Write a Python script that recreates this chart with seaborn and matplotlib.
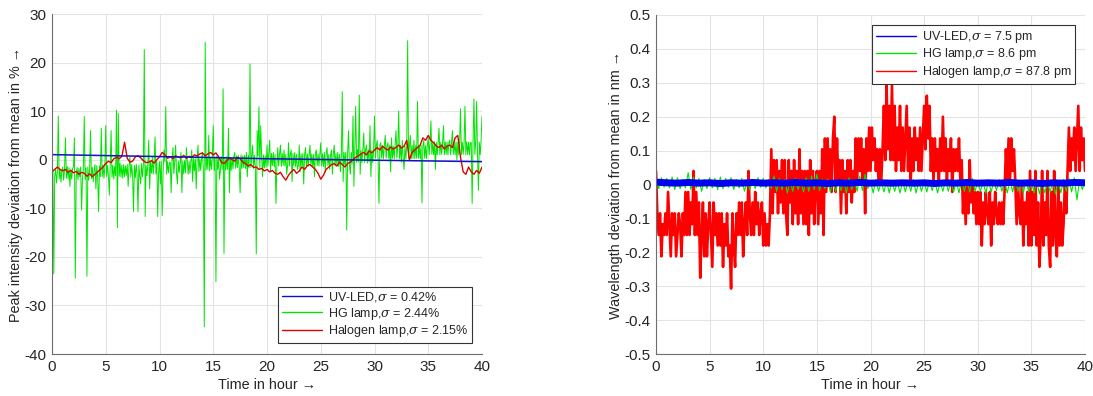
import numpy as np
import matplotlib
matplotlib.use("Agg")
import matplotlib.pyplot as plt
import seaborn as sns

# ---------------- data: left panel (peak intensity deviation, %) ----------------
uv_int = [1.05, 0.85, 0.65, 0.45, 0.20, 0.05, -0.10, -0.25, -0.40]

hg_int = [
    -4.5, -2.0, -23.5, -3.5, -1.8, -4.8, -2.5, 9.0, -4.0, -2.0, -4.6, -2.2,
    -1.5, -4.2, -2.0, 4.5, -3.8, -1.4, -4.0, -1.6, -5.5, -2.0, -4.0, -1.8,
    -1.5, 4.5, -24.4, -3.9, -1.6, -4.1, -1.8, -3.5, -1.5, -10.4, -4.0, -2.0,
    8.9, -4.0, -1.7, -24.0, -1.5, -4.2, -2.0, 6.0, -3.9, -1.6, -4.5, -2.2,
    -1.0, -6.0, -1.2, -3.6, -10.7, -1.3, -3.5, 6.5, -3.5, -1.1, -3.8, -1.5,
    7.0, -3.5, -1.2, -3.4, -7.3, -1.0, 6.0, -3.6, -1.2, -4.0, -1.4, -3.3,
    10.2, -14.0, 9.5, -3.4, -0.8, -3.6, -1.1, -3.8, -1.0, -3.5, -1.3, -3.2,
    -1.0, -5.5, -1.2, 0.5, -3.6, -1.0, -3.4, -10.7, -1.2, -3.7, -0.9, -3.0,
    -10.7, -1.1, -3.4, -5.0, -0.8, -3.5, -1.0, 22.7, -11.7, -1.2, -3.3, -0.9,
    4.0, -6.0, -0.5, -2.8, 0.5, -3.0, -0.4, 4.7, -2.9, -0.3, -11.7, -2.6,
    -0.4, -5.0, -0.3, -11.5, -2.8, 2.0, -0.5, 10.9, -3.0, -0.4, -2.7, -0.6,
    -0.5, -6.8, -0.3, 2.5, -2.9, -0.4, 3.0, -2.8, -5.0, -0.3, -2.6, -0.5,
    1.5, -6.8, -0.3, -2.9, -0.2, -2.7, 2.5, -0.4, -3.0, -0.3, -2.8, -0.5,
    2.0, -4.5, 0.3, -2.3, 0.2, -6.0, 0.3, 3.0, -2.4, 0.2, -2.2, 0.4,
    1.5, -2.2, -34.4, 24.2, -2.1, 0.5, -2.0, 5.0, -2.3, 0.4, -2.0, 0.6,
    7.0, -2.2, 0.5, -25.1, 0.8, -2.0, 0.4, -4.0, -2.1, 0.6, -2.0, 14.6,
    -19.3, 0.5, -2.1, 0.6, -2.0, 6.5, -6.8, 0.4, -2.2, 0.5, -1.9, 0.7,
    1.5, -1.8, 0.8, -1.6, 0.9, -1.7, -6.8, 1.0, -1.8, 0.8, -1.6, 0.9,
    -1.8, 1.5, -3.5, 0.9, -1.7, 19.7, -1.6, 0.8, 3.0, -1.8, 0.9, -1.5,
    -19.4, 6.0, 0.8, 10.9, -1.8, 7.0, 0.9, -3.5, 1.0, -1.7, 0.8, -1.6,
    3.0, -1.3, 1.2, 4.0, -2.5, 1.3, -1.2, 1.5, -1.4, 1.1, -9.0, -1.3,
    2.5, -1.3, 1.2, 3.0, -1.4, 1.3, -1.2, 2.0, -1.3, 1.1, -3.0, -1.2,
    3.5, -1.3, 1.2, 2.0, -4.5, 1.3, -1.2, 1.5, -1.4, 1.1, -2.0, -1.2,
    3.0, -2.5, 1.2, -1.3, 1.3, -5.0, 1.1, 2.5, -1.3, 1.2, -1.4, 1.0,
    3.0, -1.3, 1.2, -1.4, 1.1, -3.5, 1.3, 2.0, -1.2, 1.2, -1.3, 1.0,
    3.5, -1.3, 1.2, -1.4, 1.5, -2.5, 1.3, 2.5, -1.2, 1.1, -2.0, 1.0,
    2.0, -3.0, 1.2, 3.0, -1.3, 1.3, -1.2, 1.5, -1.4, 1.1, -2.5, 1.0,
    14.0, -4.5, 1.5, -1.0, 1.6, -14.5, 1.4, 6.0, -1.1, -3.0, 1.5, -0.9,
    9.0, -5.5, 2.0, 11.0, -0.6, 2.1, -0.5, 13.3, -3.0, 1.9, -0.6, 2.0,
    5.5, -0.6, 2.0, 3.0, -0.7, 2.1, -0.5, 7.0, -3.5, 2.0, -0.6, 1.9,
    9.0, 0.3, 2.9, 4.0, 0.2, -9.0, 3.0, 3.5, 0.3, 2.9, 0.2, 3.0,
    5.0, 0.3, 2.9, 3.5, 0.2, 3.0, -2.5, 4.5, 0.3, 2.8, 0.2, 3.0,
    6.0, 0.3, 2.9, 10.0, 0.2, 3.0, -0.5, 4.0, 0.3, -2.0, 2.8, 0.2,
    3.0, 24.5, 0.3, 2.9, 5.0, 0.2, 3.0, 0.3, 4.0, 0.2, 2.9, 0.3,
    12.0, 0.3, 2.9, 0.2, 3.0, -8.9, 2.8, 4.0, 0.3, 2.9, 0.2, 3.0,
    4.5, 1.0, 3.6, 8.0, 1.1, 3.5, 1.0, 3.7, -2.0, 3.6, 1.0, 3.5,
    6.5, 1.0, 3.6, 1.1, 3.5, 7.0, 1.0, 3.7, 1.1, 3.6, 1.0, 3.5,
    4.0, 1.0, 3.6, 6.0, 1.1, 3.5, 1.0, 3.7, 0.0, 3.6, 1.0, 3.5,
    10.5, 1.0, 3.6, 1.1, 3.5, 11.0, 1.0, 3.7, 1.1, 3.6, 1.0, 3.5,
    3.5, -9.0, 3.6, 12.5, 1.1, 3.5, 12.0, 1.0, -6.3, 3.6, 1.0, 4.0,
    9.0,
]

halogen_int = [
    -2.5, -2.0, -1.5, -2.0,
    -2.3, -2.0, -2.6, -2.2,
    -2.7, -2.4, -3.0, -2.6,
    -2.8, -3.4, -2.9, -3.5,
    -3.0, -2.5, -2.0, -1.5,
    -0.8, -0.3, -0.6, 0.2,
    0.5, 0.2, 0.7, 3.6,
    0.3, -0.5, -0.3, 0.6,
    0.8, 0.4, -0.2, -0.6,
    -0.5, -0.2, -0.7, 0.0,
    0.6, 1.5, 1.0, 0.3,
    0.6, 0.2, 0.8, 0.5,
    0.4, 0.9, 0.3, 0.7,
    0.5, 1.0, 0.8, 1.2,
    1.4, 0.8, 1.2, 1.5,
    1.0, 1.4, 0.6, -0.5,
    -0.8, -0.2, 0.3, 0.0,
    -0.3, 0.5, 0.2, -0.5,
    -0.8, -1.3, -1.0, -1.6,
    -1.5, -2.0, -1.8, -2.3,
    -2.0, -2.5, -2.2, -2.8,
    -3.0, -2.6, -3.5, -4.2,
    -3.2, -2.5, -2.0, -2.8,
    -2.3, -1.5, -2.0, -1.2,
    -1.0, -1.5, -2.0, -2.8,
    -4.0, -3.2, -2.0, -1.5,
    -1.0, -0.8, -1.3, -0.5,
    -1.0, -1.5, -0.8, -0.5,
    0.0, 0.5, 0.8, 1.2,
    1.5, 1.0, 1.8, 1.4,
    2.0, 2.5, 2.0, 2.8,
    2.3, 2.0, 2.6, 2.2,
    2.5, 3.0, 2.4, 2.8,
    4.0, 0.0, 1.5, 2.0,
    2.5, 3.0, 4.5, 4.0,
    5.0, 4.0, 3.5, 2.8,
    2.5, 3.0, 2.2, 2.8,
    3.0, 2.5, 4.5, 5.0,
    0.5, -2.5, -3.0, -1.5,
    -2.5, -3.0, -2.2, -2.8,
    -1.5,
]

# ---------------- data: right panel (wavelength deviation, nm) ----------------
uv_wl = [0.007, 0.005, 0.004, 0.006, 0.004, 0.005, 0.003, 0.005, 0.004, 0.006,
         0.004, 0.005, 0.004, 0.006, 0.004, 0.005, 0.003, 0.005, 0.004, 0.006,
         0.004, 0.005, 0.004, 0.005, 0.004, 0.005, 0.003, 0.005, 0.004, 0.006,
         0.004, 0.005, 0.004, 0.006, 0.004, 0.005, 0.003, 0.005, 0.004, 0.006,
         0.005]

hg_wl = [
    0.015, -0.012, 0.020, -0.008, 0.018, -0.010, 0.022, -0.015,
    0.020, -0.012, 0.015, -0.010, 0.035, -0.015, 0.022, -0.010,
    0.018, -0.020, 0.015, -0.012, 0.020, -0.010, 0.018, -0.015,
    0.022, -0.012, 0.018, -0.008, 0.020, -0.015, 0.015, -0.010,
    0.018, -0.020, 0.012, -0.015, 0.015, -0.012, 0.020, -0.008,
    0.018, -0.010, 0.015, -0.012, 0.025, -0.020, 0.018, -0.015,
    0.015, -0.025, 0.012, -0.020, 0.018, -0.015, 0.010, -0.022,
    0.020, -0.020, 0.025, -0.015, 0.030, -0.018, 0.015, -0.012,
    0.015, -0.022, 0.010, -0.020, 0.012, -0.018, 0.015, -0.025,
    0.020, -0.015, 0.012, -0.020, 0.025, -0.018, 0.030, -0.012,
    0.010, -0.025, 0.015, -0.020, 0.008, -0.022, 0.010, -0.025,
    0.012, -0.020, 0.008, -0.025, 0.010, -0.022, 0.012, -0.020,
    0.015, -0.025, 0.010, -0.020, 0.008, -0.022, 0.012, -0.018,
    0.010, -0.025, 0.008, -0.020, 0.012, -0.020, 0.010, -0.022,
    0.010, -0.025, 0.015, -0.020, 0.012, -0.022, 0.018, -0.020,
    0.010, -0.020, 0.008, -0.025, 0.012, -0.022, 0.010, -0.018,
    0.015, -0.020, 0.010, -0.025, 0.012, -0.022, 0.015, -0.020,
    0.010, -0.025, 0.012, -0.022, 0.008, -0.025, 0.010, -0.028,
    0.012, -0.025, 0.008, -0.022, 0.010, -0.028, 0.012, -0.025,
    0.015, -0.020, 0.018, -0.022, 0.020, -0.045, 0.015, -0.015,
    0.012,
]

halogen_wl = [
    0.040, -0.085, -0.149, -0.085, -0.212, -0.117, -0.149, -0.085,
    -0.149, -0.022, -0.117, -0.212, -0.085, -0.149, -0.085, -0.212,
    -0.149, -0.085, -0.117, -0.212, -0.085, -0.149, -0.022, -0.149,
    -0.022, -0.149, -0.053, -0.117, 0.040, -0.149, -0.022, -0.149,
    -0.053, -0.275, -0.149, -0.053, -0.212, -0.085, -0.212, -0.117,
    -0.053, -0.149, -0.243, -0.053, -0.149, -0.085, -0.180, -0.085,
    -0.180, -0.085, -0.243, -0.117, -0.180, -0.085, -0.212, -0.180,
    -0.307, -0.085, -0.180, -0.243, -0.085, -0.149, -0.053, -0.149,
    -0.053, -0.212, -0.117, -0.053, -0.149, 0.040, -0.085, -0.149,
    -0.053, -0.149, -0.022, -0.117, -0.053, -0.149, -0.085, -0.053,
    -0.180, -0.085, -0.180, -0.117, -0.180, -0.085, 0.104, -0.085,
    0.072, -0.022, 0.072, -0.085, 0.040, -0.053, 0.072, -0.085,
    0.072, -0.085, -0.149, 0.072, -0.053, 0.040, -0.117, 0.072,
    -0.085, 0.040, -0.117, 0.104, -0.085, 0.040, -0.117, 0.040,
    -0.117, 0.040, -0.149, 0.072, -0.085, 0.040, -0.117, 0.008,
    0.040, -0.117, 0.040, -0.085, 0.104, -0.149, 0.136, -0.022,
    0.136, 0.008, 0.104, -0.022, 0.136, 0.200, -0.022, 0.136,
    0.008, 0.072, -0.085, 0.072, -0.022, 0.040, -0.085, 0.072,
    -0.022, 0.072, -0.053, 0.040, -0.022, 0.136, 0.008, 0.136,
    0.040, 0.136, 0.008, 0.104, -0.085, 0.136, 0.040, 0.168,
    0.040, 0.168, 0.072, 0.136, 0.040, 0.104, 0.008, 0.104,
    0.008, 0.104, 0.232, 0.072, 0.293, 0.104, 0.232, 0.072,
    0.293, 0.072, 0.232, 0.040, 0.168, 0.072, 0.232, 0.040,
    0.168, 0.040, 0.136, 0.232, 0.040, 0.168, 0.008, 0.136,
    0.040, 0.168, 0.072, 0.136, 0.040, 0.168, 0.040, 0.136,
    0.232, 0.104, 0.262, 0.136, 0.232, 0.040, 0.136, 0.008,
    0.136, 0.040, 0.104, 0.008, 0.136, 0.040, 0.200, 0.040,
    0.136, 0.008, 0.104, 0.040, 0.136, -0.022, 0.104, 0.040,
    0.104, 0.040, 0.136, 0.008, 0.072, -0.085, 0.008, -0.117,
    0.008, -0.085, 0.072, -0.053, 0.008, -0.085, -0.022, -0.117,
    -0.022, -0.117, -0.022, -0.180, -0.053, -0.117, -0.022, -0.085,
    -0.117, -0.022, -0.180, -0.053, -0.117, -0.022, -0.085, -0.117,
    -0.053, -0.117, -0.053, -0.117, -0.022, 0.104, 0.008, 0.136,
    0.008, 0.136, 0.040, 0.104, 0.008, -0.117, 0.008, -0.085,
    -0.117, 0.008, -0.180, -0.053, -0.117, -0.022, -0.180, 0.040,
    -0.180, -0.022, -0.149, 0.040, -0.180, -0.053, -0.243, -0.149,
    0.040, -0.180, -0.053, -0.149, 0.040, -0.180, -0.243, -0.022,
    -0.180, 0.040, -0.149, -0.212, 0.008, -0.180, -0.053, -0.180,
    -0.117, 0.008, -0.085, 0.040, 0.168, 0.040, 0.136, 0.072,
    0.168, 0.040, 0.136, 0.232, 0.040, 0.168, 0.072, 0.136,
    0.040,
]

# ticks / labels
x_ticks = [0, 5, 10, 15, 20, 25, 30, 35, 40]
y_ticks_left = [-40, -30, -20, -10, 0, 10, 20, 30]
y_labels_left = ["-40", "-30", "-20", "-10", "0", "10", "20", "30"]
y_ticks_right = [-0.5, -0.4, -0.3, -0.2, -0.1, 0, 0.1, 0.2, 0.3, 0.4, 0.5]
y_labels_right = ["-0.5", "-0.4", "-0.3", "-0.2", "-0.1", "0", "0.1", "0.2", "0.3", "0.4", "0.5"]

legend_left = ["UV-LED,$\\sigma$ = 0.42%", "HG lamp,$\\sigma$ = 2.44%", "Halogen lamp,$\\sigma$ = 2.15%"]
legend_right = ["UV-LED,$\\sigma$ = 7.5 pm", "HG lamp,$\\sigma$ = 8.6 pm", "Halogen lamp,$\\sigma$ = 87.8 pm"]

# ---------------- styling ----------------
sns.set_theme(style="white")
plt.rcParams["font.family"] = ["Liberation Sans", "DejaVu Sans"]
plt.rcParams["axes.unicode_minus"] = False
plt.rcParams["mathtext.fontset"] = "dejavuserif"

TXT = "#262626"
GRID = "#e3e3e3"
SPINE = "#6e6e6e"
BLUE = "#0000f0"
GREEN = "#00e400"
RED = "#ff0000"

fig = plt.figure(figsize=(10.93, 3.96), dpi=100)
axL = fig.add_axes([52 / 1093, 1 - 354 / 396, 430 / 1093, 340 / 396])
axR = fig.add_axes([656 / 1093, 1 - 354 / 396, 429 / 1093, 339 / 396])


def tgrid(vals):
    return np.linspace(0, 40, len(vals))


# left panel: green first, then red, then blue
sns.lineplot(x=tgrid(hg_int), y=hg_int, ax=axL, color=GREEN, linewidth=0.7,
             estimator=None, sort=False)
sns.lineplot(x=tgrid(halogen_int), y=halogen_int, ax=axL, color="#e00000", linewidth=1.0,
             estimator=None, sort=False)
sns.lineplot(x=tgrid(uv_int), y=uv_int, ax=axL, color="#1010c8", linewidth=1.1,
             estimator=None, sort=False)

# right panel: red first, then green, then blue
sns.lineplot(x=tgrid(halogen_wl), y=halogen_wl, ax=axR, color=RED, linewidth=1.9,
             estimator=None, sort=False)
sns.lineplot(x=tgrid(hg_wl), y=hg_wl, ax=axR, color=GREEN, linewidth=0.8,
             estimator=None, sort=False)
sns.lineplot(x=tgrid(uv_wl), y=uv_wl, ax=axR, color=BLUE, linewidth=5.0,
             estimator=None, sort=False)

for ax, yt, yl, ylim, ylab in [
    (axL, y_ticks_left, y_labels_left, (-40, 30), "Peak intensity deviation from mean in % \u2192"),
    (axR, y_ticks_right, y_labels_right, (-0.5, 0.5), "Wavelength deviation from mean in nm \u2192"),
]:
    ax.set_xlim(0, 40)
    ax.set_ylim(*ylim)
    ax.set_xticks(x_ticks)
    ax.set_xticklabels([str(v) for v in x_ticks])
    ax.set_yticks(yt)
    ax.set_yticklabels(yl)
    ax.grid(True, color=GRID, linewidth=0.8)
    ax.set_axisbelow(True)
    for s in ["top", "right"]:
        ax.spines[s].set_visible(False)
    for s in ["left", "bottom"]:
        ax.spines[s].set_color(SPINE)
        ax.spines[s].set_linewidth(0.8)
    ax.tick_params(axis="both", direction="in", length=3, width=0.6, color=SPINE,
                   labelsize=11, labelcolor=TXT, pad=4)
    ax.set_xlabel("Time in hour \u2192", fontsize=10.4, color=TXT, labelpad=3)
    ax.set_ylabel(ylab, fontsize=10.4, color=TXT, labelpad=1)
    ax.set_facecolor("white")

# legends (handles in UV, HG, Halogen order)
hL = axL.get_lines()
legL = axL.legend([hL[2], hL[0], hL[1]], legend_left, loc="lower right",
                  bbox_to_anchor=(0.977, 0.032), fontsize=9.0, frameon=True,
                  fancybox=False, framealpha=1, edgecolor="#333333",
                  handlelength=3.2, labelspacing=0.12, borderpad=0.3,
                  handletextpad=0.5, borderaxespad=0)
legL.get_frame().set_linewidth(0.8)
for ln in legL.get_lines():
    ln.set_linewidth(1.0)
for t in legL.get_texts():
    t.set_color(TXT)

hR = axR.get_lines()
legR = axR.legend([hR[2], hR[1], hR[0]], legend_right, loc="upper right",
                  bbox_to_anchor=(0.977, 0.97), fontsize=9.0, frameon=True,
                  fancybox=False, framealpha=1, edgecolor="#333333",
                  handlelength=3.2, labelspacing=0.12, borderpad=0.3,
                  handletextpad=0.5, borderaxespad=0)
legR.get_frame().set_linewidth(0.8)
for ln in legR.get_lines():
    ln.set_linewidth(1.0)
for t in legR.get_texts():
    t.set_color(TXT)

fig.savefig("out.png", dpi=100, facecolor="white")
